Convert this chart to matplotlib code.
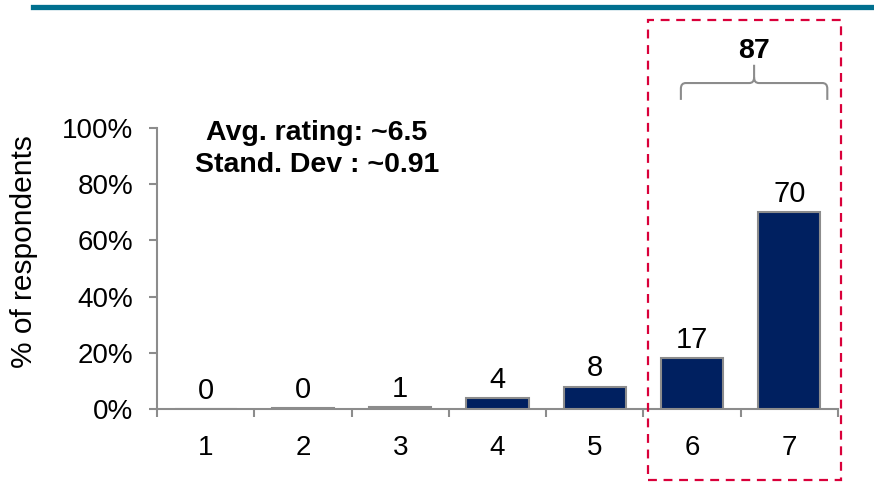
import matplotlib
matplotlib.use("Agg")
import matplotlib.pyplot as plt
from matplotlib.path import Path
from matplotlib.patches import PathPatch, Rectangle
from matplotlib.lines import Line2D

plt.rcParams['font.family'] = ['Liberation Sans', 'DejaVu Sans']

categories = ['1', '2', '3', '4', '5', '6', '7']
bar_heights = [0, 0.4, 0.6, 3.9, 8, 18, 70]
bar_labels = ['0', '0', '1', '4', '8', '17', '70']
yticks = [0, 20, 40, 60, 80, 100]
ytick_labels = ['0%', '20%', '40%', '60%', '80%', '100%']
top2_total = '87'
avg_text = 'Avg. rating: ~6.5'
sd_text = 'Stand. Dev : ~0.91'

W, H = 874, 493
fig = plt.figure(figsize=(W / 100, H / 100), dpi=100)
ax = fig.add_axes([157 / W, 1 - 409 / H, (838 - 157) / W, (409 - 128) / H])

x = list(range(len(categories)))
ax.bar(x, bar_heights, width=0.64, color='#002060', edgecolor='#8c8c8c', linewidth=1.5, zorder=3)

for xi, h, lab in zip(x, bar_heights, bar_labels):
    ax.annotate(lab, (xi, h), xytext=(0, 3), textcoords='offset points',
                ha='center', va='bottom', fontsize=21, color='black', annotation_clip=False)

ax.set_xlim(-0.5, 6.5)
ax.set_ylim(0, 100)
ax.set_xticks(x)
ax.set_xticklabels(categories, fontsize=20)
ax.set_xticks([i - 0.5 for i in range(len(categories) + 1)], minor=True)
ax.tick_params(axis='x', which='major', length=0, pad=19)
ax.tick_params(axis='x', which='minor', length=6, width=1.5, color='#8c8c8c', direction='out')
ax.set_yticks(yticks)
ax.set_yticklabels(ytick_labels, fontsize=20)
ax.tick_params(axis='y', length=6, width=1.5, color='#8c8c8c', pad=11)

for s in ['top', 'right']:
    ax.spines[s].set_visible(False)
for s in ['left', 'bottom']:
    ax.spines[s].set_color('#8c8c8c')
    ax.spines[s].set_linewidth(1.5)

# annotations
ax.text(1.144, 98.2, avg_text, ha='center', va='center', fontsize=20.5, fontweight='bold')
ax.text(1.144, 86.8, sd_text, ha='center', va='center', fontsize=20.5, fontweight='bold')

# brace over categories 6 and 7
x0, x1 = 4.885, 6.39
xm = (x0 + x1) / 2
yb, yf, yt = 110, 116, 122.5
dx, dy = 0.05, 2.0
verts = [
    (x0, yb), (x0, yf - dy),
    (x0, yf), (x0 + dx, yf),
    (xm - dx, yf),
    (xm, yf), (xm, yf + dy),
    (xm, yt),
    (xm, yf + dy), (xm, yf), (xm + dx, yf),
    (x1 - dx, yf),
    (x1, yf), (x1, yf - dy),
    (x1, yb),
]
codes = [
    Path.MOVETO, Path.LINETO,
    Path.CURVE3, Path.CURVE3,
    Path.LINETO,
    Path.CURVE3, Path.CURVE3,
    Path.LINETO,
    Path.MOVETO, Path.CURVE3, Path.CURVE3,
    Path.LINETO,
    Path.CURVE3, Path.CURVE3,
    Path.LINETO,
]
brace = PathPatch(Path(verts, codes), fill=False, edgecolor='#8c8c8c', linewidth=1.5, clip_on=False)
ax.add_patch(brace)
ax.text(xm, 127.5, top2_total, ha='center', va='center', fontsize=20.5, fontweight='bold', clip_on=False)

# y label
fig.text(24 / W, 1 - 252 / H, '% of respondents', rotation=90, ha='center', va='center', fontsize=21.5)

# top teal line
fig.add_artist(Line2D([33 / W, 1.0], [1 - 6.5 / H, 1 - 6.5 / H], color='#00708F', linewidth=3.8,
                      transform=fig.transFigure))

# red dashed box
fig.add_artist(Rectangle((648 / W, 1 - 480 / H), (841 - 648) / W, (480 - 20) / H,
                         transform=fig.transFigure, fill=False, edgecolor='#D9003A',
                         linewidth=1.6, linestyle=(0, (4, 3))))

fig.savefig('out.png', dpi=100)
